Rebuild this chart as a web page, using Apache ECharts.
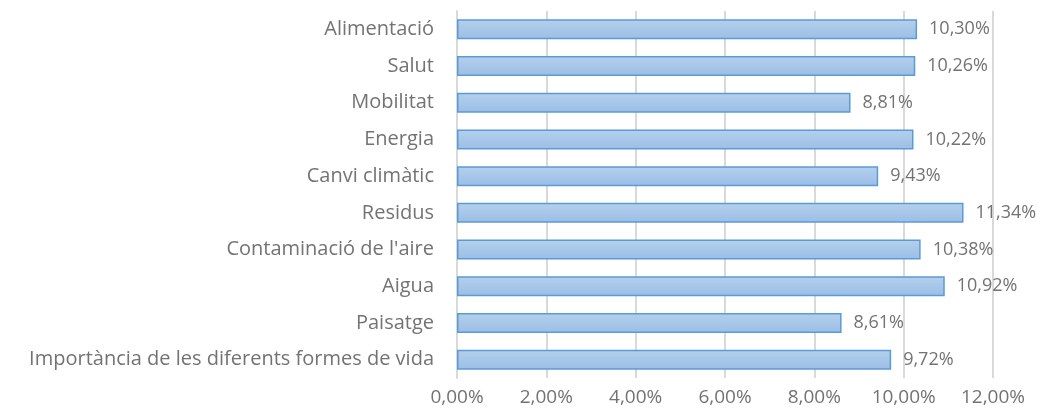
<!DOCTYPE html>
<html>
<head>
<meta charset="utf-8">
<script src="https://cdn.jsdelivr.net/npm/echarts@6/dist/echarts.min.js"></script>
<style>
  html, body { margin: 0; padding: 0; background: #fff; }
  #chart { width: 1037px; height: 416px; }
</style>
</head>
<body>
<div id="chart"></div>
<script>
// Categories, top to bottom
const categories = [
    'Alimentació', 'Salut', 'Mobilitat', 'Energia', 'Canvi climàtic',
    'Residus', "Contaminació de l'aire", 'Aigua', 'Paisatge',
    'Importància de les diferents formes de vida'
];
// Percentages
const values = [10.30, 10.26, 8.81, 10.22, 9.43, 11.34, 10.38, 10.92, 8.61, 9.72];
const xTicks = [0, 2, 4, 6, 8, 10, 12];

const fmt = v => v.toFixed(2).replace('.', ',') + '%';
const font = 'Open Sans';
const textColor = '#737373';

const chart = echarts.init(document.getElementById('chart'));
chart.setOption({
    animation: false,
    grid: { left: 457, right: 44, top: 11, bottom: 38, containLabel: false },
    xAxis: {
        type: 'value',
        min: xTicks[0],
        max: xTicks[xTicks.length - 1],
        interval: 2,
        axisLine: { show: false },
        axisTick: { show: false },
        splitLine: { lineStyle: { color: '#d9d9d9', width: 2 } },
        axisLabel: { color: textColor, fontFamily: font, fontSize: 19, margin: 10, formatter: fmt }
    },
    yAxis: {
        type: 'category',
        data: categories,
        inverse: true,
        axisLine: { show: true, lineStyle: { color: '#d9d9d9', width: 2 } },
        axisTick: { show: false },
        axisLabel: { color: textColor, fontFamily: font, fontSize: 20, margin: 23 }
    },
    series: [{
        type: 'bar',
        data: values,
        barWidth: 20,
        itemStyle: {
            color: new echarts.graphic.LinearGradient(0, 0, 0, 1, [
                { offset: 0, color: '#b4d0ec' },
                { offset: 1, color: '#9bbee6' }
            ]),
            borderColor: '#5b9bd5',
            borderWidth: 1.5
        },
        label: {
            show: true,
            position: 'right',
            distance: 12,
            color: textColor,
            fontFamily: font,
            fontSize: 18,
            formatter: p => fmt(p.value)
        }
    }]
});
</script>
</body>
</html>
